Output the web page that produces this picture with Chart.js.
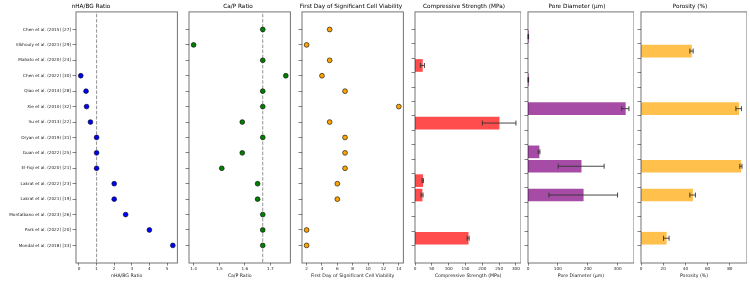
<!DOCTYPE html>
<html>
<head>
<meta charset="utf-8">
<script src="https://cdn.jsdelivr.net/npm/chart.js@4"></script>
<style>
  body { margin: 0; background: #fff; }
  #wrap { position: relative; width: 750px; height: 282px; overflow: hidden; }
  #wrap canvas { position: absolute; top: 0; }
</style>
</head>
<body>
<div id="wrap"></div>
<script>
// studies, top to bottom
const studies = [
  'Chen et al. (2015) [27]', 'Elkhouly et al. (2021) [29]', 'Mahato et al. (2020) [24]',
  'Chen et al. (2022) [30]', 'Qiao et al. (2014) [28]', 'Xie et al. (2010) [32]',
  'Su et al. (2013) [22]', 'Oryan et al. (2019) [31]', 'Guan et al. (2022) [25]',
  'El-Fiqi et al. (2020) [21]', 'Lakrat et al. (2022) [23]', 'Lakrat et al. (2021) [19]',
  'Montalbano et al. (2023) [26]', 'Park et al. (2022) [20]', 'Mondal et al. (2018) [33]'
];

const nhaBg = [null, null, null, 0.1, 0.4, 0.43, 0.65, 1, 1, 1, 2, 2, 2.65, 4, 5.33];
const caP = [1.67, 1.40, 1.67, 1.76, 1.67, 1.67, 1.59, 1.67, 1.59, 1.51, 1.65, 1.65, 1.67, 1.67, 1.67];
const firstDay = [5, 2, 5, 4, 7, 14, 5, 7, 7, 7, 6, 6, null, 2, 2];

const compressive = [null, null, 22, null, null, null, 250, null, null, null, 23, 21, null, null, 158];
const compressiveErr = [0, 0, 6, 0, 0, 0, 50, 0, 0, 0, 2, 3, 0, 0, 3];
const poreDiameter = [1, null, null, 1, null, 326, null, null, 37, 178, null, 185, null, null, null];
const poreDiameterErr = [1, 0, 0, 1, 0, 12, 0, 0, 3, 77, 0, 115, 0, 0, 0];
const porosity = [null, 45.5, null, null, null, 88, null, null, null, 90, null, 46.5, null, null, 22.8];
const porosityErr = [0, 1.5, 0, 0, 0, 2.5, 0, 0, 0, 1, 0, 2.5, 0, 0, 2.5];

const nhaTicks = [0, 1, 2, 3, 4, 5];
const caPTicks = [1.4, 1.5, 1.6, 1.7];
const dayTicks = [2, 4, 6, 8, 10, 12, 14];
const compTicks = [0, 50, 100, 150, 200, 250, 300];
const poreTicks = [0, 100, 200, 300];
const porosityTicks = [0, 20, 40, 60, 80];

const FONT = 'DejaVu Sans';

// frame round the plot area
const boxPlugin = {
  id: 'box',
  afterDraw(chart) {
    const a = chart.chartArea, ctx = chart.ctx;
    ctx.save();
    ctx.strokeStyle = 'rgba(0,0,0,0.55)';
    ctx.lineWidth = 1;
    ctx.strokeRect(a.left, a.top, a.right - a.left, a.bottom - a.top);
    ctx.restore();
  }
};

// horizontal error bars
const errPlugin = {
  id: 'errbars',
  afterDatasetsDraw(chart) {
    const xs = chart.scales.x, ys = chart.scales.y, ctx = chart.ctx;
    chart.data.datasets.forEach(ds => {
      if (!ds.errors) return;
      ctx.save();
      ctx.strokeStyle = '#333';
      ctx.lineWidth = 0.9;
      ds.data.forEach(p => {
        const e = ds.errors[p.y];
        if (!e) return;
        const x0 = xs.getPixelForValue(p.x - e), x1 = xs.getPixelForValue(p.x + e);
        const y = ys.getPixelForValue(p.y);
        ctx.beginPath();
        ctx.moveTo(x0, y); ctx.lineTo(x1, y);
        ctx.moveTo(x0, y - 2.5); ctx.lineTo(x0, y + 2.5);
        ctx.moveTo(x1, y - 2.5); ctx.lineTo(x1, y + 2.5);
        ctx.stroke();
      });
      ctx.restore();
    });
  }
};

const panels = [
  { title: 'nHA/BG Ratio', kind: 'point', values: nhaBg, ticks: nhaTicks, min: -0.17, max: 5.59, color: 'blue', ref: 1 },
  { title: 'Ca/P Ratio', kind: 'point', values: caP, ticks: caPTicks, min: 1.382, max: 1.778, color: 'green', ref: 1.67 },
  { title: 'First Day of Significant Cell Viability', kind: 'point', values: firstDay, ticks: dayTicks, min: 1.4, max: 14.6, color: 'orange' },
  { title: 'Compressive Strength (MPa)', kind: 'bar', values: compressive, errors: compressiveErr, ticks: compTicks, min: 0, max: 315, color: 'rgba(255,0,0,0.7)' },
  { title: 'Pore Diameter (µm)', kind: 'bar', values: poreDiameter, errors: poreDiameterErr, ticks: poreTicks, min: 0, max: 355, color: 'rgba(128,0,128,0.7)' },
  { title: 'Porosity (%)', kind: 'bar', values: porosity, errors: porosityErr, ticks: porosityTicks, min: 0, max: 95.5, color: 'rgba(255,165,0,0.7)' }
];

const wrap = document.getElementById('wrap');

panels.forEach((p, i) => {
  const plotLeft = 76 + 113 * i;
  const yw = i === 0 ? 76 : 8;
  const canvas = document.createElement('canvas');
  canvas.width = yw + 106;
  canvas.height = 282;
  canvas.style.left = (plotLeft - yw) + 'px';
  wrap.appendChild(canvas);

  const points = p.values
    .map((v, k) => ({ x: v, y: k }))
    .filter(pt => pt.x !== null);

  const datasets = [];
  if (p.kind === 'point') {
    datasets.push({
      type: 'scatter',
      data: points,
      pointRadius: 2.4,
      pointBackgroundColor: p.color,
      pointBorderColor: '#000',
      pointBorderWidth: 0.6,
      order: 1
    });
    if (p.ref !== undefined) {
      datasets.push({
        type: 'line',
        data: [{ x: p.ref, y: -2 }, { x: p.ref, y: 16 }],
        borderColor: '#888',
        borderWidth: 0.9,
        borderDash: [3.5, 1.6],
        pointRadius: 0,
        order: 2
      });
    }
  } else {
    datasets.push({
      type: 'bar',
      data: points,
      errors: p.errors,
      backgroundColor: p.color,
      borderWidth: 0,
      barThickness: 12
    });
  }

  new Chart(canvas, {
    type: p.kind === 'bar' ? 'bar' : 'scatter',
    data: { datasets },
    plugins: [boxPlugin, errPlugin],
    options: {
      responsive: false,
      animation: false,
      devicePixelRatio: 1,
      indexAxis: p.kind === 'bar' ? 'y' : 'x',
      layout: { padding: { left: 0, right: 0, top: 0, bottom: 0 } },
      plugins: {
        legend: { display: false },
        tooltip: { enabled: false },
        title: {
          display: true,
          text: p.title,
          color: '#000',
          font: { family: FONT, size: 5.75, weight: 'normal' },
          padding: { top: 3, bottom: 2 }
        }
      },
      scales: {
        x: {
          type: 'linear',
          position: 'bottom',
          min: p.min,
          max: p.max,
          afterBuildTicks: s => { s.ticks = p.ticks.map(v => ({ value: v })); },
          afterFit: s => { s.height = 19; },
          border: { display: false },
          grid: { drawOnChartArea: false, drawTicks: true, tickLength: 2.5, color: '#333', lineWidth: 0.6 },
          ticks: { color: '#222', padding: 1, maxRotation: 0, autoSkip: false, font: { family: FONT, size: 4.2 } },
          title: { display: true, text: p.title, color: '#222', padding: { top: 1, bottom: 3.4 }, font: { family: FONT, size: 4.7 } }
        },
        y: {
          type: 'linear',
          reverse: true,
          min: -1.14,
          max: 15.14,
          afterBuildTicks: s => { s.ticks = studies.map((_, k) => ({ value: k })); },
          afterFit: s => { s.width = yw; },
          border: { display: false },
          grid: { drawOnChartArea: false, drawTicks: true, tickLength: 3.5, color: '#333', lineWidth: 0.6 },
          ticks: {
            display: i === 0,
            color: '#222',
            padding: 1.5,
            autoSkip: false,
            font: { family: FONT, size: 4.2 },
            callback: v => studies[v]
          }
        }
      }
    }
  });
});
</script>
</body>
</html>
